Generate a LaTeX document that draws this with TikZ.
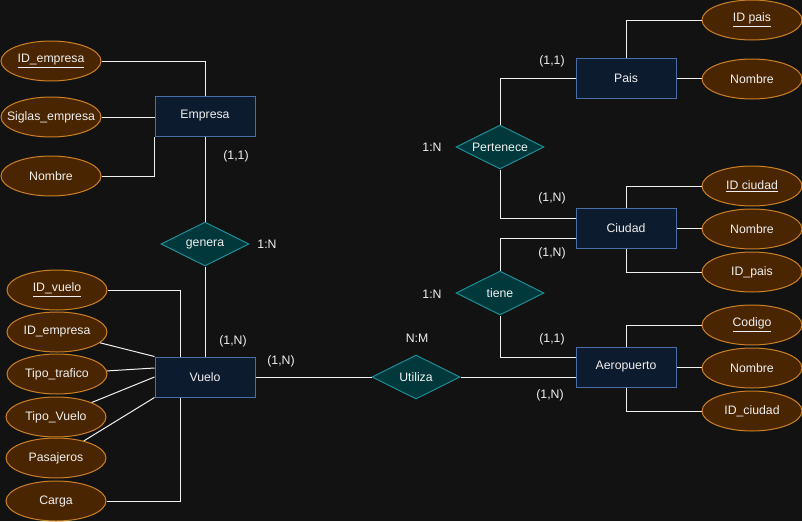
\documentclass[tikz,border=0pt]{standalone}
\usepackage{fontspec}
\setmainfont{Liberation Sans}
\usepackage{xcolor}
\usepackage{tikz}
\usetikzlibrary{calc,positioning,shapes.geometric}
\definecolor{erBack}{RGB}{18,18,18}
\definecolor{erEntity}{RGB}{13,27,46}
\definecolor{erEntityLine}{RGB}{74,110,168}
\definecolor{erAttr}{RGB}{74,37,2}
\definecolor{erAttrLine}{RGB}{204,128,36}
\definecolor{erRel}{RGB}{0,56,60}
\definecolor{erRelLine}{RGB}{30,140,150}
\definecolor{erText}{RGB}{240,240,240}
\newcommand{\attrtext}[1]{\makebox[0pt]{#1}}

\begin{document}
\begin{tikzpicture}[x=0.75pt, y=-0.75pt,
    every node/.style={font=\fontsize{9.2}{11}\selectfont, text=erText},
    entity/.style={draw=erEntityLine, fill=erEntity, line width=0.75pt,
        minimum width=75pt, minimum height=30pt, inner sep=0pt},
    attr/.style={ellipse, draw=erAttrLine, fill=erAttr, line width=0.75pt,
        minimum width=75pt, minimum height=30pt, inner sep=0pt,
        execute at begin node=\setbox0\hbox\bgroup,
        execute at end node=\egroup\makebox[0pt]{\box0}},
    rel/.style={diamond, aspect=2, draw=erRelLine, fill=erRel, line width=0.75pt,
        minimum width=66pt, minimum height=33pt, inner sep=0pt},
    link/.style={draw=erText, line width=0.75pt},
    card/.style={inner sep=0pt}]
    % background
    \fill[erBack] (0,0) rectangle (802,521);
    \useasboundingbox (0,0) rectangle (802,521);

    % entities
    \node[entity] (emp) at (205,116) {Empresa};
    \node[entity] (vue) at (205,377) {Vuelo};
    \node[entity] (pais) at (626,78) {Pais};
    \node[entity] (ciu) at (626,228) {Ciudad};
    \node[entity] (aer) at (626,367) {Aeropuerto};

    % relationships
    \node[rel] (gen) at (205,244) {genera};
    \node[rel] (uti) at (416,377) {Utiliza};
    \node[rel] (per) at (500,147) {Pertenece};
    \node[rel] (tie) at (500,293) {tiene};

    % attributes of Empresa
    \node[attr] (idEmp) at (51,61) {\underline{ID\_empresa}};
    \node[attr] (sigEmp) at (51,117) {Siglas\_empresa};
    \node[attr] (nomEmp) at (51,176) {Nombre};

    % attributes of Vuelo
    \node[attr] (idVue) at (57,290) {\underline{ID\_vuelo}};
    \node[attr] (empVue) at (57,332) {ID\_empresa};
    \node[attr] (traVue) at (57,374) {Tipo\_trafico};
    \node[attr] (tipVue) at (56,417) {Tipo\_Vuelo};
    \node[attr] (pasVue) at (56,458) {Pasajeros};
    \node[attr] (carVue) at (56,501) {Carga};

    % attributes on the right
    \node[attr] (idPais) at (752,20) {\underline{ID pais}};
    \node[attr] (nomPais) at (752,79) {Nombre};
    \node[attr] (idCiu) at (752,186) {\underline{ID ciudad}};
    \node[attr] (nomCiu) at (752,229) {Nombre};
    \node[attr] (paisCiu) at (752,272) {ID\_pais};
    \node[attr] (codAer) at (752,325) {\underline{Codigo}};
    \node[attr] (nomAer) at (752,368) {Nombre};
    \node[attr] (ciuAer) at (752,411) {ID\_ciudad};

    % links of Empresa
    \draw[link] (idEmp) -| (emp);
    \draw[link] (sigEmp) -- (emp.west |- sigEmp);
    \draw[link] (nomEmp) -| (emp.south west);
    \draw[link] (emp) -- (gen);
    \draw[link] (gen) -- (vue);

    % links of Vuelo
    \draw[link] (idVue) -| ($(vue.north)+(-25,0)$);
    \draw[link] (empVue) -- (vue.north west);
    \draw[link] (traVue) -- ($(vue.west)+(0,-9)$);
    \draw[link] (tipVue) -- (vue.west);
    \draw[link] (pasVue) -- (vue.south west);
    \draw[link] (carVue) -| ($(vue.south)+(-25,0)$);
    \draw[link] (vue) -- (uti);
    \draw[link] (uti) -- (uti -| aer.west);

    % links on the right
    \draw[link] (pais) -| (per);
    \draw[link] (per) |- ($(ciu.west)+(0,-10)$);
    \draw[link] ($(ciu.west)+(0,10)$) -| (tie);
    \draw[link] (tie) |- ($(aer.west)+(0,-10)$);
    \draw[link] (pais) |- (idPais);
    \draw[link] (pais) -- (nomPais.west |- pais);
    \draw[link] (ciu) |- (idCiu);
    \draw[link] (ciu) -- (nomCiu.west |- ciu);
    \draw[link] (ciu) |- (paisCiu);
    \draw[link] (aer) |- (codAer);
    \draw[link] (aer) -- (nomAer.west |- aer);
    \draw[link] (aer) |- (ciuAer);

    % cardinalities
    \node[card] (cEmp) at (236,156) {(1,1)};
    \node[card] (cGen) at (267,244) {1:N};
    \node[card] (cVueGen) at (233,341) {(1,N)};
    \node[card] (cVueUti) at (281,361) {(1,N)};
    \node[card] (cUti) at (417,338) {N:M};
    \node[card] (cPer) at (432,147) {1:N};
    \node[card] (cTie) at (432,294) {1:N};
    \node[card] (cPais) at (552,61) {(1,1)};
    \node[card] (cCiuPer) at (552,198) {(1,N)};
    \node[card] (cCiuTie) at (552,253) {(1,N)};
    \node[card] (cAerTie) at (552,339) {(1,1)};
    \node[card] (cAerUti) at (550,395) {(1,N)};
\end{tikzpicture}
\end{document}
